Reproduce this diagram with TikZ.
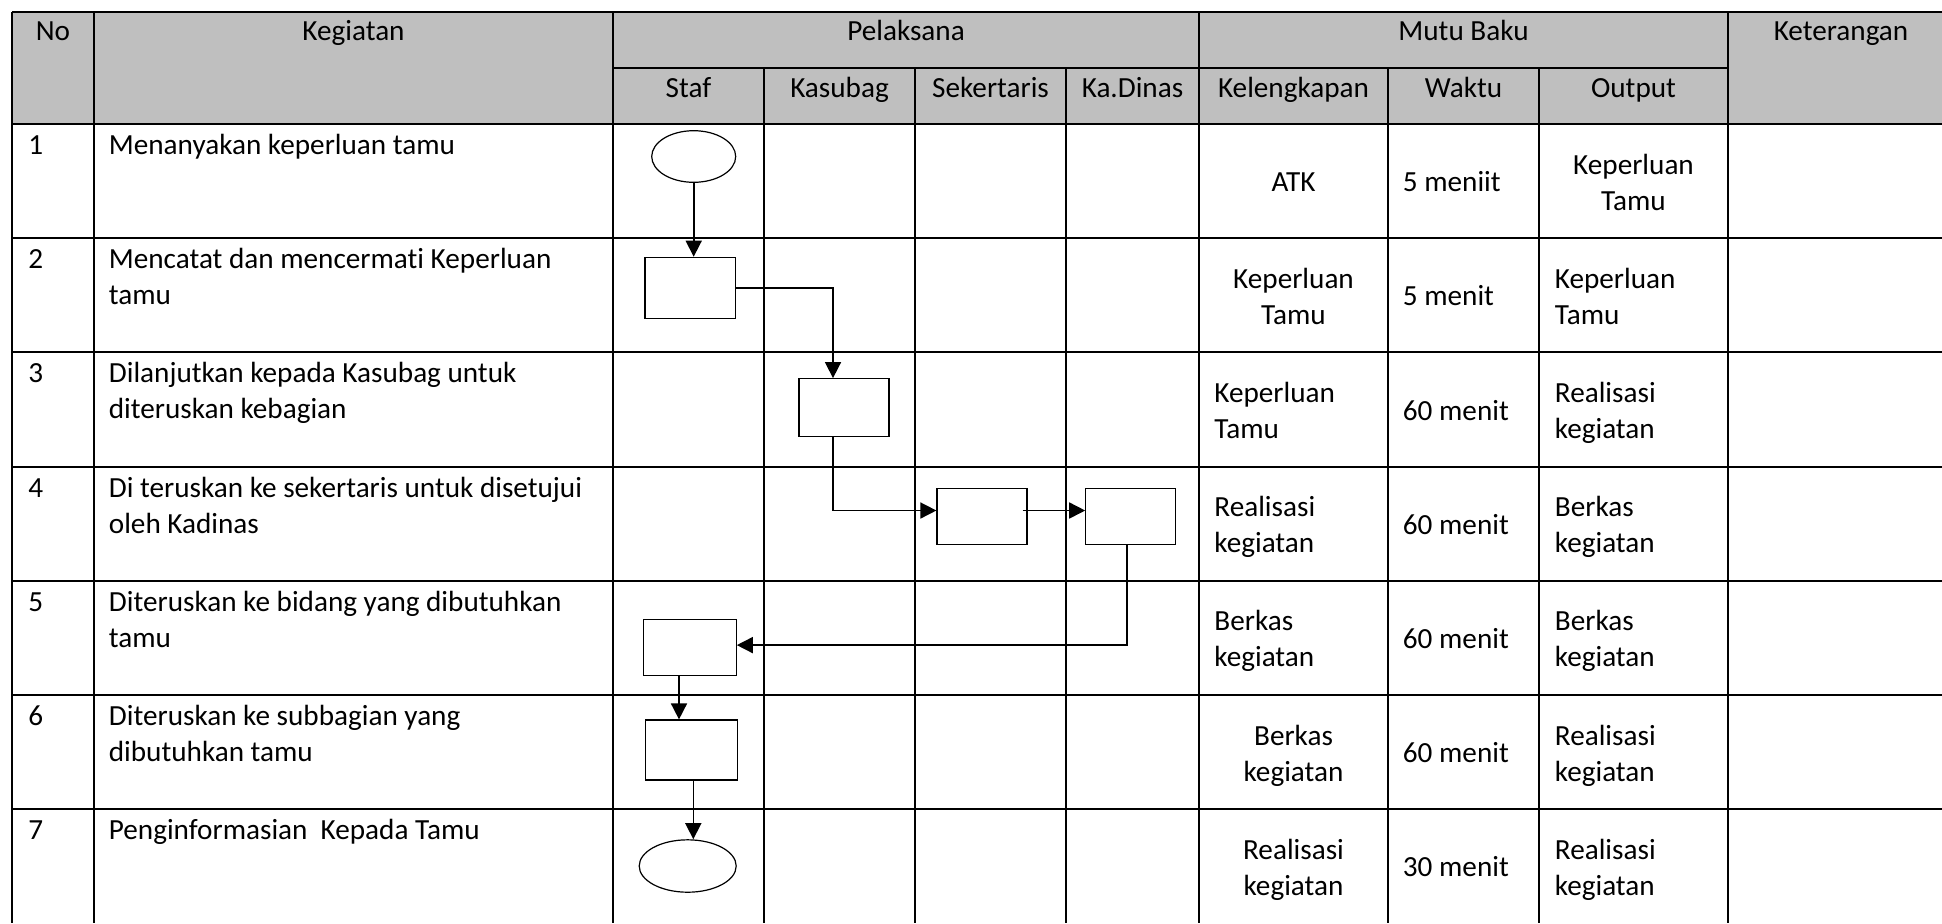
\documentclass[tikz,border=0pt]{standalone}
\usepackage{fontspec}
\setmainfont{Carlito}[Ligatures={NoCommon}]
\definecolor{headgray}{RGB}{191, 191, 191}
\usetikzlibrary{shapes.geometric, arrows.meta, positioning, calc}
\newcommand{\cellln}[2]{\begin{tabular}[t]{@{}#1@{}}#2\end{tabular}}

\begin{document}
\begin{tikzpicture}[
        x=0.5pt, y=-0.5pt,
        font=\fontsize{14.6}{18}\selectfont,
        grid/.style={line width=1pt},
        box/.style={draw, line width=0.6pt, minimum width=45pt, minimum height=29pt, inner sep=0pt},
        term/.style={draw, ellipse, line width=0.6pt, inner sep=0pt},
        arrow/.style={-{Triangle[length=8pt, width=8pt]}, line width=0.8pt},
        txt/.style={anchor=base west, inner sep=0pt},
        ctxt/.style={anchor=base, inner sep=0pt}
    ]
        \useasboundingbox (0,0) rectangle (1942,923);

        % Header background
        \fill[headgray] (12,12) rectangle (1942,124);

        % Table rules
        \foreach \yy in {12,124,238.2,352.4,466.6,580.8,695,809.2}
            \draw[grid] (12,\yy) -- (1942,\yy);
        \draw[grid] (613,68) -- (1728,68);
        \foreach \xx in {12,94,613,1199,1728}
            \draw[grid] (\xx,12) -- (\xx,923);
        \foreach \xx in {764,915,1066,1388,1539}
            \draw[grid] (\xx,68) -- (\xx,923);

        % Header: first row
        \node[ctxt] (hno) at (53,40) {No};
        \node[ctxt] (hkeg) at (353.5,40) {Kegiatan};
        \node[ctxt] (hpel) at (906,40) {Pelaksana};
        \node[ctxt] (hmutu) at (1463.5,40) {Mutu Baku};
        \node[ctxt] (hket) at (1841,40) {Keterangan};

        % Header: second row
        \node[ctxt] (hstaf) at (688.5,97) {Staf};
        \node[ctxt] (hkasubag) at (839.5,97) {Kasubag};
        \node[ctxt] (hsekr) at (990.5,97) {Sekertaris};
        \node[ctxt] (hkadin) at (1132.5,97) {Ka.Dinas};
        \node[ctxt] (hkel) at (1293.5,97) {Kelengkapan};
        \node[ctxt] (hwaktu) at (1463.5,97) {Waktu};
        \node[ctxt] (hout) at (1633.5,97) {Output};

        % Numbers and activities
        \node[txt] (n1) at (28,154.5) {1};
        \node[txt] (k1) at (108.5,154.5) {Menanyakan keperluan tamu};
        \node[txt] (n2) at (28,268.7) {2};
        \node[txt] (k2) at (108.5,268.7) {\cellln{l}{Mencatat dan mencermati Keperluan\\tamu}};
        \node[txt] (n3) at (28,382.9) {3};
        \node[txt] (k3) at (108.5,382.9) {\cellln{l}{Dilanjutkan kepada Kasubag untuk\\diteruskan kebagian}};
        \node[txt] (n4) at (28,497.1) {4};
        \node[txt] (k4) at (108.5,497.1) {\cellln{l}{Di teruskan ke sekertaris untuk disetujui\\oleh Kadinas}};
        \node[txt] (n5) at (28,611.3) {5};
        \node[txt] (k5) at (108.5,611.3) {\cellln{l}{Diteruskan ke bidang yang dibutuhkan\\tamu}};
        \node[txt] (n6) at (28,725.5) {6};
        \node[txt] (k6) at (108.5,725.5) {\cellln{l}{Diteruskan ke subbagian yang\\dibutuhkan tamu}};
        \node[txt] (n7) at (28,839.7) {7};
        \node[txt] (k7) at (108.5,839.7) {Penginformasian~ Kepada Tamu};

        % Mutu baku: kelengkapan, waktu, output
        \node[ctxt] (kl1) at (1293.5,191.6) {ATK};
        \node[txt] (w1) at (1402.5,191.6) {5 meniit};
        \node[ctxt] (o1) at (1633.5,174.1) {\cellln{c}{Keperluan\\Tamu}};

        \node[ctxt] (kl2) at (1293.5,288.3) {\cellln{c}{Keperluan\\Tamu}};
        \node[txt] (w2) at (1402.5,305.8) {5 menit};
        \node[txt] (o2) at (1554.5,288.3) {\cellln{l}{Keperluan\\Tamu}};

        \node[txt] (kl3) at (1214,402.5) {\cellln{l}{Keperluan\\Tamu}};
        \node[txt] (w3) at (1402.5,420) {60 menit};
        \node[txt] (o3) at (1554.5,402.5) {\cellln{l}{Realisasi\\kegiatan}};

        \node[txt] (kl4) at (1214,516.7) {\cellln{l}{Realisasi\\kegiatan}};
        \node[txt] (w4) at (1402.5,534.2) {60 menit};
        \node[txt] (o4) at (1554.5,516.7) {\cellln{l}{Berkas\\kegiatan}};

        \node[txt] (kl5) at (1214,630.9) {\cellln{l}{Berkas\\kegiatan}};
        \node[txt] (w5) at (1402.5,648.4) {60 menit};
        \node[txt] (o5) at (1554.5,630.9) {\cellln{l}{Berkas\\kegiatan}};

        \node[ctxt] (kl6) at (1293.5,745.1) {\cellln{c}{Berkas\\kegiatan}};
        \node[txt] (w6) at (1402.5,762.6) {60 menit};
        \node[txt] (o6) at (1554.5,745.1) {\cellln{l}{Realisasi\\kegiatan}};

        \node[ctxt] (kl7) at (1293.5,859.3) {\cellln{c}{Realisasi\\kegiatan}};
        \node[txt] (w7) at (1402.5,876.8) {30 menit};
        \node[txt] (o7) at (1554.5,859.3) {\cellln{l}{Realisasi\\kegiatan}};

        % Flow shapes
        \node[term, minimum width=42pt, minimum height=25.8pt] (start) at (693.7,156.5) {};
        \node[box, minimum width=45.4pt, minimum height=30.5pt] (staf2) at (690.4,287.8) {};
        \node[box, minimum height=28.7pt] (kasubag3) at (844,407.4) {};
        \node[box, minimum height=28.3pt] (sekr4) at (982,516.5) {};
        \node[box, minimum height=28.3pt] (kadin4) at (1130.8,516.5) {};
        \node[box, minimum width=46.2pt, minimum height=27.8pt] (staf5) at (690,647.5) {};
        \node[box, minimum width=46.2pt, minimum height=30pt] (staf6) at (691.3,750) {};
        \node[term, minimum width=48.5pt, minimum height=26.2pt] (finish) at (687.7,866) {};

        % Flow connectors
        \draw[arrow] (start.south) -- (start.south |- staf2.north);
        \draw[arrow] (staf2.east) -| ([xshift=-5.5pt]kasubag3.north);
        \draw[arrow] ([xshift=-5.5pt]kasubag3.south) |- ([yshift=3pt]sekr4.west);
        \draw[arrow] ([xshift=-2.5pt, yshift=3pt]sekr4.east) -- ([yshift=3pt]kadin4.west);
        \draw[arrow] ([xshift=-1.8pt]kadin4.south) |- ([yshift=1.2pt]staf5.east);
        \draw[arrow] ([xshift=-5.5pt]staf5.south) -- ([xshift=-5.5pt]staf5.south |- staf6.north);
        \draw[arrow] ([xshift=1pt]staf6.south) -- ([xshift=1pt]staf6.south |- finish.north);
    \end{tikzpicture}
\end{document}
